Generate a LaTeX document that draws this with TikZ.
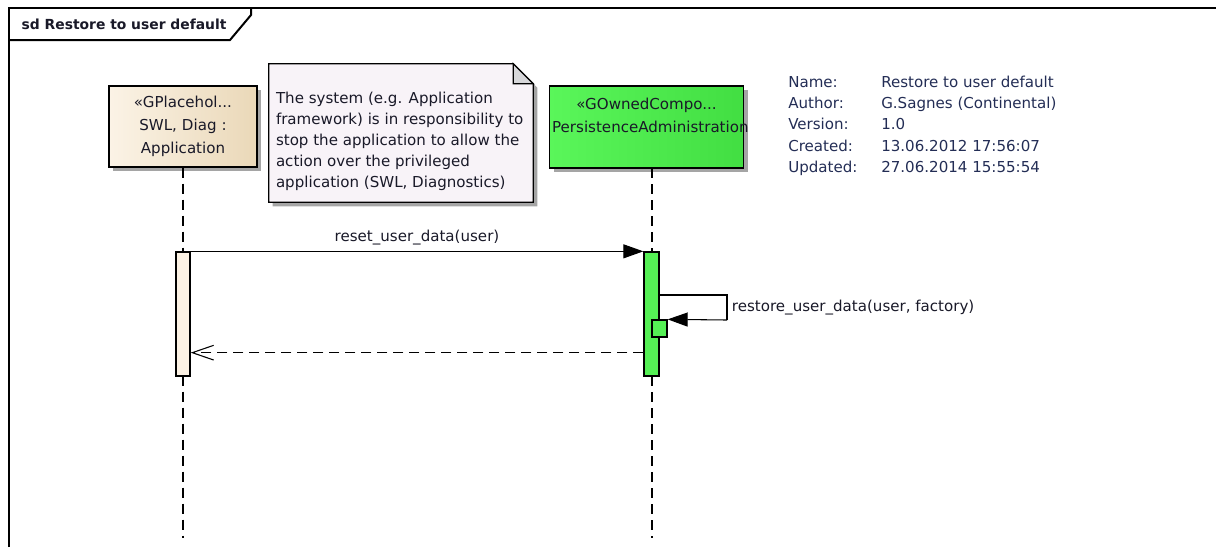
\documentclass[tikz,border=0pt]{standalone}
\usepackage{fontspec}
\setmainfont{DejaVu Sans}
\usepackage{xcolor}
\definecolor{sdInk}{RGB}{25,25,40}
\definecolor{sdInfo}{RGB}{35,45,85}
\definecolor{appLight}{RGB}{251,243,230}
\definecolor{appDark}{RGB}{234,216,184}
\definecolor{appAct}{RGB}{252,242,228}
\definecolor{persLight}{RGB}{90,246,90}
\definecolor{persDark}{RGB}{66,222,66}
\definecolor{persAct}{RGB}{85,240,85}
\definecolor{noteFill}{RGB}{248,243,248}
\definecolor{noteFold}{RGB}{215,215,218}
\definecolor{shadowGray}{RGB}{165,165,165}
\usetikzlibrary{arrows.meta,positioning,shadows}

\begin{document}
\begin{tikzpicture}[
  x=0.75pt, y=-0.75pt,
  font=\fontsize{11.3}{16}\selectfont, text=sdInk,
  lifebox/.style={draw, line width=1pt, align=center, inner xsep=2pt, inner ysep=0pt,
                  drop shadow={shadow xshift=3pt, shadow yshift=-3pt, fill=shadowGray, opacity=1},
                  font=\fontsize{11.3}{17.5}\selectfont},
  act/.style={draw, line width=1pt, inner sep=0pt},
  lifeline/.style={line width=0.8pt, dash pattern=on 7.5pt off 4.5pt},
  msg/.style={-{Triangle[length=15pt, width=10.5pt]}, line width=0.8pt},
  ret/.style={-{Straight Barb[length=16pt, width=11pt]}, line width=0.8pt,
              dash pattern=on 7.5pt off 4.5pt},
  frameline/.style={line width=1.5pt}
]
  \useasboundingbox (0,0) rectangle (1216,547);

  % frame and title tab
  \draw[frameline] (9,547) -- (9,8) -- (1216,8);
  \draw[frameline] (9,40) -- (230,40) -- (251,15) -- (251,8);
  \node[anchor=west, font=\fontsize{10.4}{13}\selectfont\bfseries] (title) at (17,24) {sd Restore to user default};

  % lifelines
  \node[lifebox, minimum width=111pt, minimum height=60.75pt, text width=107pt,
        left color=appLight, right color=appDark] (app) at (183,126.5)
        {«GPlacehol...\\SWL, Diag :\\Application};
  \node[lifebox, minimum width=145.5pt, minimum height=61.5pt, text width=141.5pt,
        left color=persLight, right color=persDark] (pers) at (646.5,127)
        {«GOwnedCompo...\\PersistenceAdministration\\\mbox{}};

  \coordinate (persTop) at (652,168);
  \coordinate (appEnd)  at (183,538);
  \coordinate (persEnd) at (652,538);
  \draw[lifeline] (app.south) -- (appEnd);
  \draw[lifeline] (persTop) -- (persEnd);

  % note
  \node[minimum width=198pt, minimum height=103.5pt, inner sep=0pt] (note) at (401,133) {};
  \path[draw, line width=1pt, fill=noteFill,
        drop shadow={shadow xshift=3pt, shadow yshift=-3pt, fill=shadowGray, opacity=1}]
    (note.north west) -- ([xshift=-15pt]note.north east) -- ([yshift=-15pt]note.north east)
    -- (note.south east) -- (note.south west) -- cycle;
  \draw[line width=1pt, fill=noteFold] ([xshift=-15pt]note.north east)
    -- ([xshift=-15pt, yshift=-15pt]note.north east) -- ([yshift=-15pt]note.north east) -- cycle;
  \node[below right=21pt and 5.25pt of note.north west, inner sep=0pt, align=left,
        font=\fontsize{11.3}{15.75}\selectfont] (noteText)
        {The system (e.g. Application\\framework) is in responsibility to\\stop the application to allow the\\action over the privileged\\application (SWL, Diagnostics)};

  % diagram properties
  \node[anchor=north west, inner sep=0pt, text=sdInfo] (info) at (788,72) {%
    \begin{tabular}{@{}p{69.75pt}@{}l@{}}
      Name:    & Restore to user default\\
      Author:  & G.Sagnes (Continental)\\
      Version: & 1.0\\
      Created: & 13.06.2012 17:56:07\\
      Updated: & 27.06.2014 15:55:54
    \end{tabular}};

  % activations
  \node[act, fill=appAct, minimum width=10.5pt, minimum height=93pt] (appAct) at (183,314) {};
  \node[act, fill=persAct, minimum width=11.25pt, minimum height=93pt] (persAct) at (651.5,314) {};
  \node[act, fill=persAct, minimum width=11.25pt, minimum height=12.75pt] (selfAct) at (659.5,328.5) {};

  % messages
  \draw[msg] (appAct.north east) -- node[above=1pt] (resetLbl) {reset\_user\_data(user)} (persAct.north west);
  \coordinate (selfOut)  at (659,295);
  \coordinate (selfTurn) at (727,320);
  \draw[line width=0.8pt] (selfOut) -| node[right, pos=0.75] (restoreLbl) {restore\_user\_data(user, factory)} (selfTurn);
  \draw[msg] (selfTurn) -- (selfAct.north east);
  \draw[ret] ([yshift=18pt]persAct.south west) -- ([yshift=18pt]appAct.south east);
\end{tikzpicture}
\end{document}
